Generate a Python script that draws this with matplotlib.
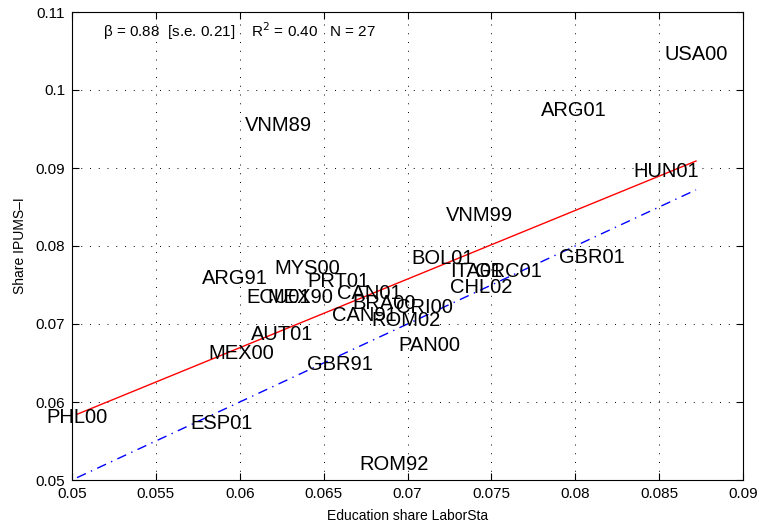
import numpy as np
import matplotlib
matplotlib.use("Agg")
import matplotlib.pyplot as plt

plt.rcParams['font.family'] = ['Liberation Sans', 'DejaVu Sans']

# country-year samples: education share in LaborSta vs IPUMS-I
labels = ['USA00', 'ARG01', 'VNM89', 'HUN01', 'VNM99', 'BOL01', 'ITA01', 'GRC01',
          'GBR01', 'CHL02', 'MYS00', 'ARG91', 'PRT01', 'ECU01', 'MEX90', 'CAN01',
          'BRA00', 'CRI00', 'CAN91', 'ROM02', 'AUT01', 'MEX00', 'PAN00', 'GBR91',
          'PHL00', 'ESP01', 'ROM92']
laborsta = [0.0872, 0.0799, 0.0623, 0.0854, 0.0743, 0.0721, 0.0741, 0.0760,
            0.0810, 0.0744, 0.0640, 0.0597, 0.0659, 0.0623, 0.0636, 0.0677,
            0.0686, 0.0710, 0.0674, 0.0699, 0.0625, 0.0601, 0.0713, 0.0660,
            0.0503, 0.0589, 0.0692]
ipums = [0.1045, 0.0974, 0.0954, 0.0895, 0.0839, 0.0784, 0.0767, 0.0767,
         0.0785, 0.0747, 0.0771, 0.0758, 0.0754, 0.0734, 0.0734, 0.0739,
         0.0726, 0.0721, 0.0711, 0.0705, 0.0687, 0.0662, 0.0673, 0.0648,
         0.0580, 0.0572, 0.0520]

beta = 0.88
se = 0.21
r2 = 0.40
intercept = 0.01416

xticks = [0.05, 0.055, 0.06, 0.065, 0.07, 0.075, 0.08, 0.085, 0.09]
xticklabels = ['0.05', '0.055', '0.06', '0.065', '0.07', '0.075', '0.08', '0.085', '0.09']
yticks = [0.05, 0.06, 0.07, 0.08, 0.09, 0.10, 0.11]
yticklabels = ['0.05', '0.06', '0.07', '0.08', '0.09', '0.1', '0.11']

fig = plt.figure(figsize=(7.59, 5.31), dpi=100)
ax = fig.add_axes([72 / 759, 51 / 531, 671 / 759, 468 / 531])

for lab, xv, yv in zip(labels, laborsta, ipums):
    ax.text(xv, yv, lab, ha='center', va='center', fontsize=14.5, color='black')

# fitted line and 45-degree line over the range of the data
xr = np.array([min(laborsta), max(laborsta)])
ax.plot(xr, intercept + beta * xr, color='red', lw=1.0)
ax.plot(xr, xr, color='blue', lw=1.0, linestyle=(0, (7, 4, 1, 4)))

ax.set_xlim(0.05, 0.09)
ax.set_ylim(0.05, 0.11)
ax.set_xticks(xticks)
ax.set_xticklabels(xticklabels)
ax.set_yticks(yticks)
ax.set_yticklabels(yticklabels)
ax.tick_params(direction='in', top=True, right=True, length=5, labelsize=11, pad=5)
ax.grid(True, linestyle=(0, (1, 8)), color='black', lw=0.7)
for sp in ax.spines.values():
    sp.set_linewidth(0.8)

ax.text(0.05185, 0.1076,
        '\u03b2 = %.2f  [s.e. %.2f]    R$^2$ = %.2f   N = %d' % (beta, se, r2, len(labels)),
        fontsize=11, va='center', ha='left')

ax.set_xlabel('Education share LaborSta', fontsize=10, labelpad=6)
ax.set_ylabel('Share IPUMS\u2013I', fontsize=10, labelpad=6)

fig.savefig('out.png', dpi=100)
